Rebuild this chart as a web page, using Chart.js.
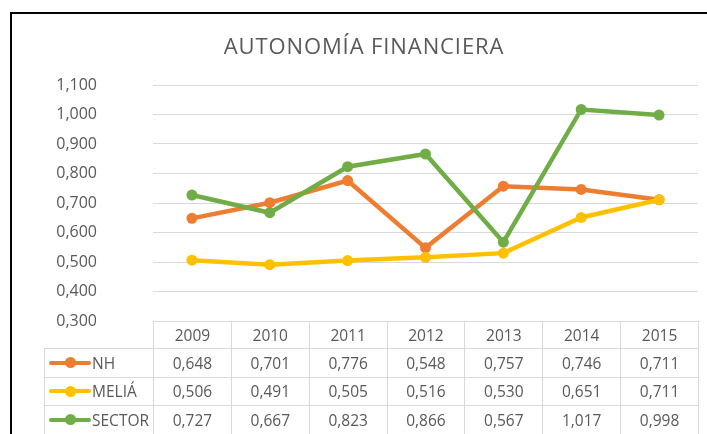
<!DOCTYPE html>
<html><head><meta charset="utf-8">
<script src="https://cdn.jsdelivr.net/npm/chart.js@4.4.1/dist/chart.umd.min.js"></script>
<style>
html,body{margin:0;padding:0;background:#fff;}
#wrap{position:relative;width:707px;height:434px;overflow:hidden;background:#fff;}
#frame{position:absolute;left:10px;top:12px;width:720px;height:440px;border-left:2px solid #000;border-top:2px solid #000;box-sizing:border-box;}
#c{position:absolute;left:0;top:0;}
#title{position:absolute;left:164px;width:400px;top:30px;text-align:center;font-family:'Open Sans',sans-serif;font-size:22px;letter-spacing:0.9px;line-height:30px;color:#595959;white-space:nowrap;}
.cell{position:absolute;box-sizing:border-box;border:1px solid #d9d9d9;display:flex;align-items:center;justify-content:center;font-family:'Open Sans',sans-serif;font-size:15.5px;color:#595959;white-space:nowrap;}
.lg{justify-content:flex-start;}
.mk{position:absolute;left:4px;top:50%;width:42px;height:4px;margin-top:-2px;border-radius:2px;}
.dot{position:absolute;left:20px;top:50%;width:11px;height:11px;margin-top:-5.5px;border-radius:50%;}
.lbl{position:absolute;left:47px;top:50%;transform:translateY(-50%);}
</style></head>
<body>
<div id="wrap">
  <div id="frame"></div>
  <canvas id="c" width="707" height="434"></canvas>
  <div id="title"></div>
  <div id="tbl"></div>
</div>
<script>
const chartTitle = 'AUTONOMÍA FINANCIERA';
const categories = ['2009','2010','2011','2012','2013','2014','2015'];
const nhValues = [0.648,0.701,0.776,0.548,0.757,0.746,0.711];
const meliaValues = [0.506,0.491,0.505,0.516,0.530,0.651,0.711];
const sectorValues = [0.727,0.667,0.823,0.866,0.567,1.017,0.998];
const seriesNames = ['NH','MELIÁ','SECTOR'];
const seriesColors = ['#ED7D31','#FFC000','#70AD47'];
const yMin = 0.3, yMax = 1.1, yStep = 0.1;

const fmt = v => Number(v).toFixed(3).replace('.', ',');
const allSeries = [nhValues, meliaValues, sectorValues];

document.getElementById('title').textContent = chartTitle;

const datasets = allSeries.map((vals, i) => ({
  label: seriesNames[i],
  data: vals,
  borderColor: seriesColors[i],
  backgroundColor: seriesColors[i],
  pointBackgroundColor: seriesColors[i],
  pointBorderColor: seriesColors[i],
  borderWidth: 4.5,
  pointRadius: 5.5,
  pointBorderWidth: 0,
  tension: 0,
  order: 3 - i
}));

const chart = new Chart(document.getElementById('c'), {
  type: 'line',
  data: { labels: categories, datasets },
  options: {
    responsive: false,
    animation: false,
    devicePixelRatio: 1,
    layout: { padding: { left: 0, right: 9, top: 85, bottom: 113 } },
    plugins: {
      legend: { display: false },
      tooltip: { enabled: false },
      title: { display: false }
    },
    scales: {
      x: { display: false, offset: true },
      y: {
        min: yMin, max: yMax,
        ticks: { stepSize: yStep, color: '#595959', font: { family: 'Open Sans', size: 16 }, padding: 56,
                 callback: v => fmt(v) },
        grid: { color: '#d9d9d9', lineWidth: 1, drawTicks: false },
        border: { display: false },
        afterFit(s) { s.width = 153; }
      }
    }
  }
});

// Data table aligned with the x scale
(function buildTable() {
  const tbl = document.getElementById('tbl');
  const ca = chart.chartArea;
  const xs = chart.scales.x;
  const colW = (ca.right - ca.left) / categories.length;
  const top = ca.bottom;
  const rowTops = [top, top + 27, top + 55.5, top + 84];
  const rowHs = [28, 29.5, 29.5, 29.5];
  const legendLeft = 44;
  function cell(x, y, w, h, html, cls) {
    const d = document.createElement('div');
    d.className = 'cell' + (cls ? ' ' + cls : '');
    d.style.left = x + 'px'; d.style.top = y + 'px';
    d.style.width = w + 'px'; d.style.height = h + 'px';
    d.innerHTML = html;
    tbl.appendChild(d);
  }
  categories.forEach((c, i) => {
    const cx = xs.getPixelForValue(i);
    cell(cx - colW / 2, rowTops[0], colW + 1, rowHs[0], c);
  });
  allSeries.forEach((vals, r) => {
    const y = rowTops[r + 1], h = rowHs[r + 1];
    cell(legendLeft, y, ca.left - legendLeft + 1, h,
      '<span class="mk" style="background:' + seriesColors[r] + '"></span>' +
      '<span class="dot" style="background:' + seriesColors[r] + '"></span>' +
      '<span class="lbl">' + seriesNames[r] + '</span>', 'lg');
    vals.forEach((v, i) => {
      const cx = xs.getPixelForValue(i);
      cell(cx - colW / 2, y, colW + 1, h, fmt(v));
    });
  });
})();
</script>
</body></html>
